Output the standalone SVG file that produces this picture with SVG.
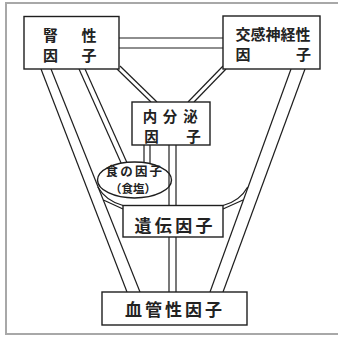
<svg xmlns="http://www.w3.org/2000/svg" width="338" height="340" viewBox="0 0 338 340">
<style>
.frame{fill:none;stroke:#a8a8a8;stroke-width:2}
.ln{fill:none;stroke:#1e1e1e;stroke-width:1.2}
.box{fill:#fff;stroke:#1e1e1e;stroke-width:1.4}
.t{font-family:"Noto Sans CJK JP","Noto Sans CJK SC",sans-serif;font-weight:700;fill:#222;dominant-baseline:central}
</style>
<rect width="338" height="340" fill="#fff"/>
<rect class="frame" x="6" y="3" width="345" height="331"/>
<g id="connectors">
  <line class="ln" x1="119" y1="38" x2="223" y2="38"/>
  <line class="ln" x1="119" y1="48" x2="223" y2="48"/>
  <line class="ln" x1="117" y1="69" x2="151" y2="102"/>
  <line class="ln" x1="120" y1="66" x2="157" y2="102"/>
  <line class="ln" x1="223" y1="66" x2="188" y2="102"/>
  <line class="ln" x1="226" y1="69" x2="194" y2="102"/>
  <line class="ln" x1="41" y1="69" x2="127" y2="292"/>
  <line class="ln" x1="51" y1="69" x2="140" y2="292"/>
  <line class="ln" x1="291" y1="69" x2="210" y2="292"/>
  <line class="ln" x1="305" y1="69" x2="223" y2="292"/>
  <line class="ln" x1="79" y1="69" x2="122" y2="165"/>
  <line class="ln" x1="85" y1="69" x2="128" y2="165"/>
  <line class="ln" x1="144" y1="145" x2="144" y2="165"/>
  <line class="ln" x1="150" y1="145" x2="150" y2="165"/>
  <path class="ln" d="M97.8,187 Q106,201 123,205.5"/>
  <path class="ln" d="M103.4,200 L123,209"/>
  <path class="ln" d="M247.7,187 Q240,201 223,205.5"/>
  <path class="ln" d="M243,200 L223,209"/>
</g>
<g id="shokuNoInshi">
  <ellipse class="box" cx="134.5" cy="180" rx="37" ry="18"/>
  <text class="t" x="105.5" y="170.5" font-size="12.5" letter-spacing="2.2">食の因子</text>
  <text class="t" x="133" y="187.5" font-size="11.5" text-anchor="middle">（食塩）</text>
</g>
<g id="connectors-vertical">
  <line class="ln" x1="169" y1="145" x2="169" y2="292"/>
  <line class="ln" x1="176" y1="145" x2="176" y2="292"/>
</g>
<g id="jinseiInshi">
  <rect class="box" x="24" y="16.5" width="95" height="52.5"/>
  <text class="t" font-size="15" text-anchor="middle" y="34"><tspan x="50.5">腎</tspan><tspan x="89">性</tspan></text>
  <text class="t" font-size="15" text-anchor="middle" y="54"><tspan x="50.5">因</tspan><tspan x="89">子</tspan></text>
</g>
<g id="koukanShinkeiseiInshi">
  <rect class="box" x="223" y="16" width="97" height="53"/>
  <text class="t" font-size="15" text-anchor="middle" x="273" y="33">交感神経性</text>
  <text class="t" font-size="15" text-anchor="middle" y="52.5"><tspan x="243">因</tspan><tspan x="303.5">子</tspan></text>
</g>
<g id="naibunpitsuInshi">
  <rect class="box" x="132" y="102" width="78" height="43"/>
  <text class="t" font-size="14.5" text-anchor="middle" y="115"><tspan x="150">内</tspan><tspan x="170">分</tspan><tspan x="190.5">泌</tspan></text>
  <text class="t" font-size="14.5" text-anchor="middle" y="134.5"><tspan x="151.5">因</tspan><tspan x="193.5">子</tspan></text>
</g>
<g id="idenInshi">
  <rect class="box" x="123" y="205.5" width="100" height="31.5"/>
  <text class="t" font-size="17" text-anchor="middle" y="224"><tspan x="143">遺</tspan><tspan x="163.3">伝</tspan><tspan x="183.7">因</tspan><tspan x="204">子</tspan></text>
</g>
<g id="kekkanseiInshi">
  <rect class="box" x="102" y="292" width="145" height="33"/>
  <text class="t" font-size="17" text-anchor="middle" y="308"><tspan x="133.5">血</tspan><tspan x="153.5">管</tspan><tspan x="173.5">性</tspan><tspan x="193.5">因</tspan><tspan x="213.5">子</tspan></text>
</g>
</svg>
